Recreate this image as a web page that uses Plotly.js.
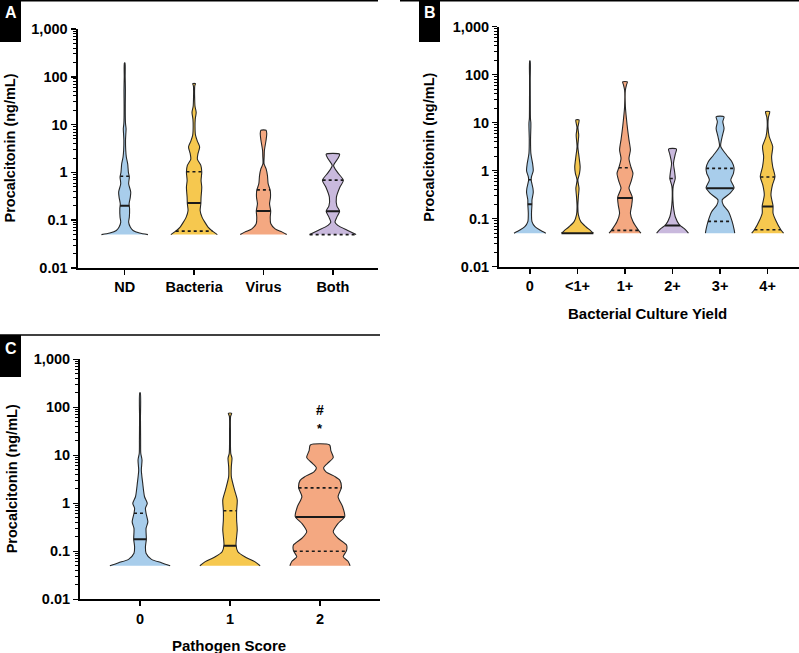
<!DOCTYPE html>
<html>
<head>
<meta charset="utf-8">
<script src="https://cdn.plot.ly/plotly-3.0.1.min.js"></script>
<style>
  html, body { margin: 0; padding: 0; background: #fff; }
  #chart { width: 799px; height: 653px; }
</style>
</head>
<body>
<div id="chart"></div>
<script>
/* ==========================================
   DATA (procalcitonin levels, violin profiles)
   each profile: PCT levels (ng/mL) + relative width
========================================== */

const A_CATS = ["ND", "Bacteria", "Virus", "Both"];
const A_ND_Y = [0.05, 0.054, 0.061, 0.072, 0.091, 0.116, 0.174, 0.22, 0.30, 0.39, 0.58, 0.80, 1.0, 1.5, 2.1, 2.9, 4.7, 6.5, 8.2, 10, 12, 25, 52, 100, 195];
const A_ND_W = [1.0, 0.64, 0.36, 0.24, 0.17, 0.20, 0.21, 0.19, 0.24, 0.26, 0.17, 0.20, 0.16, 0.13, 0.07, 0.045, 0.035, 0.05, 0.06, 0.04, 0.03, 0.025, 0.03, 0.02, 0.012];
const A_BAC_Y = [0.05, 0.059, 0.072, 0.091, 0.116, 0.16, 0.22, 0.30, 0.49, 0.68, 1.02, 1.4, 1.9, 2.5, 3.4, 4.5, 6, 9, 13, 18, 24, 35, 50, 65, 72];
const A_BAC_W = [1.0, 0.79, 0.60, 0.46, 0.34, 0.26, 0.29, 0.30, 0.33, 0.30, 0.33, 0.29, 0.14, 0.17, 0.24, 0.14, 0.06, 0.04, 0.05, 0.09, 0.04, 0.025, 0.02, 0.03, 0.06];
const A_VIR_Y = [0.05, 0.057, 0.066, 0.085, 0.116, 0.155, 0.22, 0.30, 0.42, 0.58, 0.86, 1.2, 1.5, 2.2, 2.9, 4.7, 6.5, 7.6];
const A_VIR_W = [1.0, 0.79, 0.50, 0.31, 0.29, 0.31, 0.26, 0.30, 0.29, 0.20, 0.17, 0.11, 0.025, 0.03, 0.04, 0.11, 0.14, 0.11];
const A_BOTH_Y = [0.05, 0.061, 0.078, 0.091, 0.116, 0.153, 0.20, 0.30, 0.49, 0.68, 1.0, 1.4, 1.9, 2.4];
const A_BOTH_W = [1.0, 0.64, 0.21, 0.09, 0.17, 0.29, 0.17, 0.15, 0.30, 0.45, 0.20, 0.03, 0.20, 0.29];
const A_MED = [0.20, 0.23, 0.155, 0.153];
const A_Q1 = [null, 0.059, null, 0.05];
const A_Q3 = [0.83, 1.03, 0.43, 0.69];

const B_CATS = ["0", "<1+", "1+", "2+", "3+", "4+"];
const B_0_Y = [0.05, 0.058, 0.068, 0.087, 0.13, 0.2, 0.245, 0.35, 0.43, 0.64, 0.75, 1.0, 1.4, 2.3, 4.4, 8, 10, 12, 30, 80, 195];
const B_0_W = [1.0, 0.63, 0.32, 0.13, 0.10, 0.13, 0.13, 0.21, 0.19, 0.08, 0.10, 0.21, 0.17, 0.06, 0.04, 0.06, 0.06, 0.035, 0.025, 0.02, 0.015];
const B_LT1_Y = [0.05, 0.056, 0.068, 0.087, 0.12, 0.18, 0.29, 0.43, 0.64, 0.88, 1.2, 1.95, 3.2, 5.5, 8, 11.4];
const B_LT1_W = [1.0, 0.84, 0.53, 0.21, 0.06, 0.025, 0.06, 0.10, 0.025, 0.13, 0.17, 0.10, 0.025, 0.08, 0.03, 0.10];
const B_1_Y = [0.05, 0.058, 0.087, 0.13, 0.19, 0.28, 0.43, 0.59, 0.88, 1.17, 1.8, 2.7, 4.4, 7, 11.4, 21.5, 48, 62, 71];
const B_1_W = [1.0, 0.84, 0.50, 0.34, 0.42, 0.46, 0.25, 0.38, 0.50, 0.38, 0.25, 0.34, 0.25, 0.17, 0.10, 0.025, 0.025, 0.10, 0.15];
const B_2_Y = [0.05, 0.062, 0.074, 0.11, 0.155, 0.245, 0.47, 0.69, 0.95, 1.42, 2.2, 2.83];
const B_2_W = [1.0, 0.74, 0.44, 0.17, 0.08, 0.025, 0.04, 0.17, 0.13, 0.06, 0.17, 0.25];
const B_3_Y = [0.05, 0.06, 0.087, 0.14, 0.19, 0.245, 0.34, 0.44, 0.64, 0.88, 1.14, 1.54, 2.1, 3.2, 5.1, 7.6, 10.5, 13.3];
const B_3_W = [0.92, 0.88, 0.76, 0.53, 0.21, 0.13, 0.63, 0.88, 0.67, 0.84, 0.88, 0.74, 0.42, 0.04, 0.13, 0.25, 0.17, 0.25];
const B_4_Y = [0.05, 0.058, 0.094, 0.13, 0.186, 0.31, 0.5, 0.75, 1.21, 1.95, 3.2, 5.1, 8.2, 13, 17];
const B_4_W = [1.0, 0.84, 0.50, 0.34, 0.34, 0.21, 0.30, 0.46, 0.32, 0.25, 0.32, 0.10, 0.025, 0.05, 0.13];
const B_MED = [0.20, 0.05, 0.27, 0.072, 0.43, 0.18];
const B_Q1 = [null, null, 0.057, null, 0.088, 0.059];
const B_Q3 = [0.65, null, 1.15, 0.69, 1.12, 0.74];

const C_CATS = ["0", "1", "2"];
const C_0_Y = [0.05, 0.058, 0.068, 0.091, 0.125, 0.178, 0.30, 0.41, 0.62, 0.79, 1.0, 1.37, 2.6, 4.9, 8, 11, 20, 60, 200];
const C_0_W = [1.0, 0.71, 0.38, 0.20, 0.18, 0.21, 0.20, 0.26, 0.20, 0.18, 0.24, 0.15, 0.09, 0.044, 0.066, 0.025, 0.02, 0.015, 0.01];
const C_1_Y = [0.05, 0.061, 0.077, 0.098, 0.135, 0.28, 0.45, 0.70, 1.17, 1.9, 3.6, 5.8, 8.7, 11, 30, 65, 75];
const C_1_W = [1.0, 0.82, 0.49, 0.26, 0.20, 0.24, 0.22, 0.22, 0.24, 0.15, 0.044, 0.044, 0.066, 0.025, 0.015, 0.02, 0.055];
const C_2_Y = [0.05, 0.062, 0.077, 0.103, 0.135, 0.187, 0.256, 0.38, 0.53, 0.85, 1.37, 2.1, 3.0, 3.6, 4.5, 5.5, 6.8, 9, 12.5, 16.4];
const C_2_W = [1.0, 0.93, 0.77, 0.88, 0.88, 0.60, 0.44, 0.60, 0.82, 0.75, 0.60, 0.71, 0.66, 0.50, 0.20, 0.12, 0.25, 0.44, 0.36, 0.32];
const C_MED = [0.178, 0.13, 0.52];
const C_Q1 = [null, null, 0.10];
const C_Q3 = [0.62, 0.70, 2.1];

const Y_TICKS = [0.01, 0.1, 1, 10, 100, 1000];
const Y_TICKTEXT = ["0.01", "0.1", "1", "10", "100", "1,000"];


/* ==========================================
   STYLE
========================================== */

const BLUE = "#a8cdeb";
const YELLOW = "#f6c84f";
const SALMON = "#f4a881";
const PURPLE = "#c9b9dd";

const FONT = "Liberation Sans, Arial, Helvetica, sans-serif";
const MAX_W = 0.335;
const W = 799, H = 653;

const px = v => v / W;
const py = v => 1 - v / H;

const panels = [
    {
        cats: A_CATS, xa: "x", ya: "y",
        profiles: [[A_ND_Y, A_ND_W], [A_BAC_Y, A_BAC_W], [A_VIR_Y, A_VIR_W], [A_BOTH_Y, A_BOTH_W]],
        med: A_MED, q1: A_Q1, q3: A_Q3,
        colors: [BLUE, YELLOW, SALMON, PURPLE]
    },
    {
        cats: B_CATS, xa: "x2", ya: "y2",
        profiles: [[B_0_Y, B_0_W], [B_LT1_Y, B_LT1_W], [B_1_Y, B_1_W], [B_2_Y, B_2_W], [B_3_Y, B_3_W], [B_4_Y, B_4_W]],
        med: B_MED, q1: B_Q1, q3: B_Q3,
        colors: [BLUE, YELLOW, SALMON, PURPLE, BLUE, YELLOW]
    },
    {
        cats: C_CATS, xa: "x3", ya: "y3",
        profiles: [[C_0_Y, C_0_W], [C_1_Y, C_1_W], [C_2_Y, C_2_W]],
        med: C_MED, q1: C_Q1, q3: C_Q3,
        colors: [BLUE, YELLOW, SALMON]
    }
];


/* ==========================================
   VIOLIN BUILDING
========================================== */

function widthAt(ys, ws, v){

    const lv = Math.log10(v);

    for(let i = 0; i < ys.length - 1; i++){

        const a = Math.log10(ys[i]);
        const b = Math.log10(ys[i + 1]);

        if(lv >= a && lv <= b){
            return ws[i] + (ws[i + 1] - ws[i]) * (lv - a) / (b - a);
        }

    }

    return ws[0];

}

function violinTraces(panel){

    const out = [];

    panel.profiles.forEach((p, i) => {

        const ys = p[0];
        const ws = p[1];
        const x = [];
        const y = [];

        for(let k = 0; k < ys.length; k++){
            x.push(i + MAX_W * ws[k]);
            y.push(ys[k]);
        }

        for(let k = ys.length - 1; k >= 0; k--){
            x.push(i - MAX_W * ws[k]);
            y.push(ys[k]);
        }

        out.push({
            type: "scatter",
            mode: "lines",
            x: x,
            y: y,
            xaxis: panel.xa,
            yaxis: panel.ya,
            fill: "toself",
            fillcolor: panel.colors[i],
            line: { color: "#262626", width: 1.1, shape: "spline", smoothing: 0.7 },
            hoverinfo: "skip",
            showlegend: false
        });

        const lines = [
            [panel.q1[i], "dot", 1.6],
            [panel.q3[i], "dot", 1.6],
            [panel.med[i], "solid", 2]
        ];

        lines.forEach(l => {

            if(l[0] === null) return;

            const hw = MAX_W * widthAt(ys, ws, l[0]);

            out.push({
                type: "scatter",
                mode: "lines",
                x: [i - hw, i + hw],
                y: [l[0], l[0]],
                xaxis: panel.xa,
                yaxis: panel.ya,
                line: { color: "#1a1a1a", width: l[2], dash: l[1] },
                hoverinfo: "skip",
                showlegend: false
            });

        });

    });

    return out;

}


/* ==========================================
   AXES
========================================== */

const minorVals = [];
[0.01, 0.1, 1, 10, 100].forEach(d => {
    for(let m = 2; m <= 9; m++) minorVals.push(d * m);
});

function yAxis(top, bottom, anchor){

    return {
        domain: [py(bottom), py(top)],
        anchor: anchor,
        type: "log",
        range: [-2, 3],
        tickmode: "array",
        tickvals: Y_TICKS,
        ticktext: Y_TICKTEXT,
        ticks: "outside",
        ticklen: 5,
        tickwidth: 1.5,
        tickcolor: "#000",
        minor: {
            tickmode: "array",
            tickvals: minorVals,
            ticks: "outside",
            ticklen: 3,
            tickwidth: 1,
            tickcolor: "#000"
        },
        showline: true,
        linecolor: "#000",
        linewidth: 2,
        showgrid: false,
        zeroline: false,
        tickfont: { family: FONT, size: 14.5, color: "#000", weight: "bold" },
        fixedrange: true
    };

}

function xAxis(left, right, range, cats, anchor){

    return {
        domain: [px(left), px(right)],
        anchor: anchor,
        range: range,
        tickmode: "array",
        tickvals: cats.map((c, i) => i),
        ticktext: cats,
        ticks: "outside",
        ticklen: 5,
        tickwidth: 1.5,
        tickcolor: "#000",
        showline: true,
        linecolor: "#000",
        linewidth: 2,
        showgrid: false,
        zeroline: false,
        tickfont: { family: FONT, size: 14.5, color: "#000", weight: "bold" },
        fixedrange: true
    };

}


/* ==========================================
   LABELS, BOXES, RULES
========================================== */

function label(text, x, y, opts){

    return Object.assign({
        text: text,
        xref: "paper",
        yref: "paper",
        x: px(x),
        y: py(y),
        xanchor: "center",
        yanchor: "middle",
        showarrow: false,
        font: { family: FONT, size: 14, color: "#000", weight: "bold" }
    }, opts || {});

}

const annotations = [
    label("Procalcitonin (ng/mL)", 10, 148.5, { textangle: -90, font: { family: FONT, size: 14.5, color: "#000", weight: "bold" } }),
    label("Procalcitonin (ng/mL)", 429, 146.7, { textangle: -90, font: { family: FONT, size: 14.5, color: "#000", weight: "bold" } }),
    label("Procalcitonin (ng/mL)", 12, 479.3, { textangle: -90, font: { family: FONT, size: 14.5, color: "#000", weight: "bold" } }),
    label("Bacterial Culture Yield", 647, 313, { font: { family: FONT, size: 15, color: "#000", weight: "bold" } }),
    label("Pathogen Score", 229, 645, { font: { family: FONT, size: 15, color: "#000", weight: "bold" } }),
    label("A", 10.5, 13, { font: { family: FONT, size: 16, color: "#fff", weight: "bold" } }),
    label("B", 429.5, 13, { font: { family: FONT, size: 16, color: "#fff", weight: "bold" } }),
    label("C", 10.5, 348, { font: { family: FONT, size: 16, color: "#fff", weight: "bold" } }),
    {
        text: "#", xref: "x3", yref: "y3", x: 2, y: Math.log10(88),
        showarrow: false, font: { family: FONT, size: 14, color: "#000", weight: "bold" }
    },
    {
        text: "*", xref: "x3", yref: "y3", x: 2, y: Math.log10(36),
        showarrow: false, font: { family: FONT, size: 13, color: "#000", weight: "bold" }
    }
];

function rect(x0, y0, x1, y1){
    return {
        type: "rect", xref: "paper", yref: "paper",
        x0: px(x0), x1: px(x1), y0: py(y1), y1: py(y0),
        fillcolor: "#000", line: { width: 0 }
    };
}

function rule(x0, x1, y){
    return {
        type: "line", xref: "paper", yref: "paper",
        x0: px(x0), x1: px(x1), y0: py(y), y1: py(y),
        line: { color: "#000", width: 1.5 }
    };
}

const shapes = [
    rect(0, 0, 21, 42),
    rect(419, 0, 440, 42),
    rect(0, 335, 21, 377),
    rule(0, 378, 0.7),
    rule(400, 799, 0.7),
    rule(0, 380, 335)
];


/* ==========================================
   DRAW
========================================== */

let traces = [];
panels.forEach(p => { traces = traces.concat(violinTraces(p)); });

const layout = {
    width: W,
    height: H,
    margin: { l: 0, r: 0, t: 0, b: 0 },
    paper_bgcolor: "#fff",
    plot_bgcolor: "rgba(0,0,0,0)",
    showlegend: false,
    xaxis: xAxis(77.5, 378, [-0.68, 3.65], A_CATS, "y"),
    yaxis: yAxis(29, 268, "x"),
    xaxis2: xAxis(499, 799, [-0.65, 5.66], B_CATS, "y2"),
    yaxis2: yAxis(26.7, 266.7, "x2"),
    xaxis3: xAxis(80, 380, [-0.667, 2.667], C_CATS, "y3"),
    yaxis3: yAxis(359.3, 599.3, "x3"),
    annotations: annotations,
    shapes: shapes
};

Plotly.newPlot("chart", traces, layout, { displayModeBar: false, staticPlot: true });
</script>
</body>
</html>
